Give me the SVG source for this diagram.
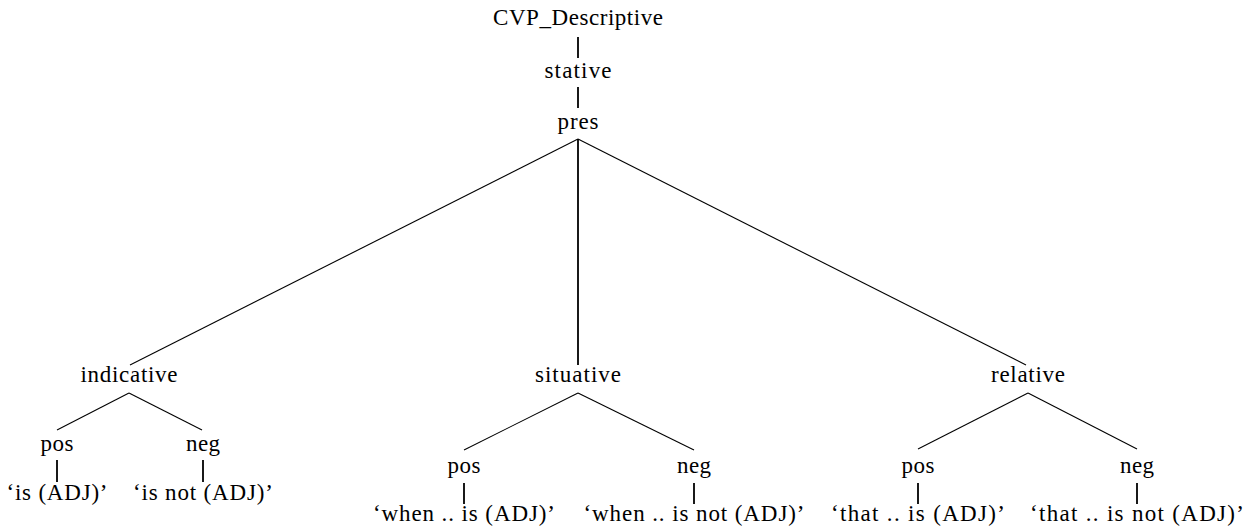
<svg xmlns="http://www.w3.org/2000/svg" width="1255" height="529" viewBox="0 0 1255 529">
<style>
.t{font-size:23px;fill:#000;text-anchor:middle}
.e{stroke:#000;stroke-width:1.1;fill:none}
.v{stroke:#000;stroke-width:1.8;fill:none}
</style>
<rect width="1255" height="529" fill="#fff"/>
<g id="connectors">
<line class="v" x1="578" y1="37" x2="578" y2="58"/>
<line class="v" x1="578" y1="87" x2="578" y2="108"/>
<line class="e" x1="578" y1="139" x2="130" y2="365"/>
<line class="v" x1="578" y1="139" x2="578" y2="365"/>
<line class="e" x1="578" y1="139" x2="1026" y2="365"/>
<line class="e" x1="129" y1="393" x2="57" y2="430"/>
<line class="e" x1="129" y1="393" x2="202" y2="430"/>
<line class="v" x1="57" y1="460" x2="57" y2="482"/>
<line class="v" x1="203" y1="460" x2="203" y2="482"/>
<line class="e" x1="578" y1="393" x2="464" y2="450"/>
<line class="e" x1="578" y1="393" x2="694" y2="450"/>
<line class="v" x1="464" y1="483" x2="464" y2="504"/>
<line class="v" x1="694" y1="483" x2="694" y2="504"/>
<line class="e" x1="1028" y1="393" x2="918" y2="449"/>
<line class="e" x1="1028" y1="393" x2="1137" y2="449"/>
<line class="v" x1="918" y1="483" x2="918" y2="504"/>
<line class="v" x1="1137" y1="483" x2="1137" y2="504"/>
</g>
<g font-family="Liberation Serif, serif">
<g id="n-root"><text class="t" x="578" y="25" textLength="170" lengthAdjust="spacing">CVP_Descriptive</text></g>
<g id="n-stative"><text class="t" x="578" y="78" textLength="67" lengthAdjust="spacing">stative</text></g>
<g id="n-pres"><text class="t" x="578" y="129" textLength="41" lengthAdjust="spacing">pres</text></g>
<g id="n-indicative"><text class="t" x="129" y="382" textLength="97" lengthAdjust="spacing">indicative</text></g>
<g id="n-situative"><text class="t" x="578" y="382" textLength="86" lengthAdjust="spacing">situative</text></g>
<g id="n-relative"><text class="t" x="1028" y="382" textLength="74" lengthAdjust="spacing">relative</text></g>
<g id="n-ind-pos"><text class="t" x="57" y="451" textLength="33" lengthAdjust="spacing">pos</text></g>
<g id="n-ind-neg"><text class="t" x="203" y="451" textLength="34" lengthAdjust="spacing">neg</text></g>
<g id="n-ind-pos-leaf"><text class="t" x="57" y="500" textLength="101" lengthAdjust="spacing">‘is (ADJ)’</text></g>
<g id="n-ind-neg-leaf"><text class="t" x="203" y="500" textLength="140" lengthAdjust="spacing">‘is not (ADJ)’</text></g>
<g id="n-sit-pos"><text class="t" x="464" y="473" textLength="33" lengthAdjust="spacing">pos</text></g>
<g id="n-sit-neg"><text class="t" x="694" y="473" textLength="34" lengthAdjust="spacing">neg</text></g>
<g id="n-sit-pos-leaf"><text class="t" x="464" y="521" textLength="182" lengthAdjust="spacing">‘when .. is (ADJ)’</text></g>
<g id="n-sit-neg-leaf"><text class="t" x="694" y="521" textLength="221" lengthAdjust="spacing">‘when .. is not (ADJ)’</text></g>
<g id="n-rel-pos"><text class="t" x="918" y="473" textLength="33" lengthAdjust="spacing">pos</text></g>
<g id="n-rel-neg"><text class="t" x="1137" y="473" textLength="34" lengthAdjust="spacing">neg</text></g>
<g id="n-rel-pos-leaf"><text class="t" x="918" y="521" textLength="174" lengthAdjust="spacing">‘that .. is (ADJ)’</text></g>
<g id="n-rel-neg-leaf"><text class="t" x="1137" y="521" textLength="214" lengthAdjust="spacing">‘that .. is not (ADJ)’</text></g>
</g>
</svg>
